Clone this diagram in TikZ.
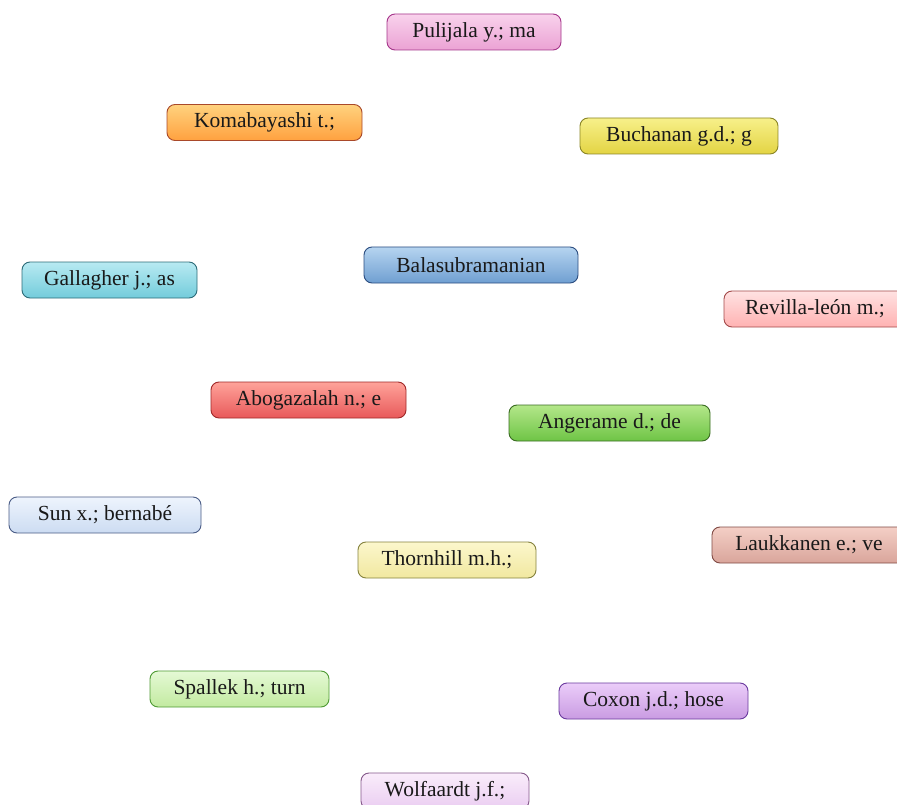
\documentclass[tikz,border=0pt]{standalone}
\usepackage{xcolor}
\usepackage{fontspec}
\setmainfont{Liberation Serif}

\definecolor{rosaA}{HTML}{F9D2EC}\definecolor{rosaB}{HTML}{EBA2D4}\definecolor{rosaC}{HTML}{A4358A}
\definecolor{naranjaA}{HTML}{FFD27E}\definecolor{naranjaB}{HTML}{FFA13F}\definecolor{naranjaC}{HTML}{A9492A}
\definecolor{amarilloA}{HTML}{F7F08A}\definecolor{amarilloB}{HTML}{E3D443}\definecolor{amarilloC}{HTML}{8A8526}
\definecolor{azulA}{HTML}{B6D4F0}\definecolor{azulB}{HTML}{6F9FD1}\definecolor{azulC}{HTML}{2B4D80}
\definecolor{cianA}{HTML}{B8EAF2}\definecolor{cianB}{HTML}{73CCDB}\definecolor{cianC}{HTML}{2C6B78}
\definecolor{salmonA}{HTML}{FFE2E2}\definecolor{salmonB}{HTML}{FFB2B2}\definecolor{salmonC}{HTML}{A34A4A}
\definecolor{rojoA}{HTML}{FFA39A}\definecolor{rojoB}{HTML}{E8595A}\definecolor{rojoC}{HTML}{A02828}
\definecolor{verdeA}{HTML}{B4E78A}\definecolor{verdeB}{HTML}{6EC445}\definecolor{verdeC}{HTML}{3A6B22}
\definecolor{celesteA}{HTML}{EEF4FD}\definecolor{celesteB}{HTML}{CCDCF2}\definecolor{celesteC}{HTML}{4A5C86}
\definecolor{cremaA}{HTML}{FCF7CC}\definecolor{cremaB}{HTML}{F1E8A0}\definecolor{cremaC}{HTML}{85823E}
\definecolor{marronA}{HTML}{F4CFC6}\definecolor{marronB}{HTML}{D9A59B}\definecolor{marronC}{HTML}{804A44}
\definecolor{limaA}{HTML}{E5F9D5}\definecolor{limaB}{HTML}{C2EAA0}\definecolor{limaC}{HTML}{4E9A33}
\definecolor{moradoA}{HTML}{EBCDF9}\definecolor{moradoB}{HTML}{C99BE2}\definecolor{moradoC}{HTML}{6A3A9E}
\definecolor{lilaA}{HTML}{FAEDFB}\definecolor{lilaB}{HTML}{EACDF1}\definecolor{lilaC}{HTML}{84588A}

\begin{document}
\begin{tikzpicture}[
    x=1pt, y=-1pt,
    every node/.style={font=\fontsize{21.5}{25}\selectfont},
    autor/.style n args={3}{draw=#3, top color=#1, bottom color=#2, line width=0.9pt,
        rounded corners=8pt, minimum height=36pt, inner xsep=4pt, text=black!90}
]
\clip (0,0) rectangle (897,805);
\useasboundingbox (0,0) rectangle (897,805);
% Autores
\node[autor={rosaA}{rosaB}{rosaC}, minimum width=174pt] (pulijala) at (474,32) {Pulijala y.; ma};
\node[autor={naranjaA}{naranjaB}{naranjaC}, minimum width=195pt] (komabayashi) at (264.5,122.5) {Komabayashi t.;};
\node[autor={amarilloA}{amarilloB}{amarilloC}, minimum width=198pt] (buchanan) at (679,136) {Buchanan g.d.; g};
\node[autor={azulA}{azulB}{azulC}, minimum width=214pt] (balasubramanian) at (471,265) {Balasubramanian};
\node[autor={cianA}{cianB}{cianC}, minimum width=175pt] (gallagher) at (109.5,280) {Gallagher j.; as};
\node[autor={salmonA}{salmonB}{salmonC}, minimum width=182pt] (revilla) at (815,309) {Revilla-león m.;};
\node[autor={rojoA}{rojoB}{rojoC}, minimum width=195pt] (abogazalah) at (308.5,400) {Abogazalah n.; e};
\node[autor={verdeA}{verdeB}{verdeC}, minimum width=201pt] (angerame) at (609.5,423) {Angerame d.; de};
\node[autor={celesteA}{celesteB}{celesteC}, minimum width=192pt] (sun) at (105,515) {Sun x.; bernabé};
\node[autor={cremaA}{cremaB}{cremaC}, minimum width=178pt] (thornhill) at (447,560) {Thornhill m.h.;};
\node[autor={marronA}{marronB}{marronC}, minimum width=194pt] (laukkanen) at (809,545) {Laukkanen e.; ve};
\node[autor={limaA}{limaB}{limaC}, minimum width=179pt] (spallek) at (239.5,689) {Spallek h.; turn};
\node[autor={moradoA}{moradoB}{moradoC}, minimum width=189pt] (coxon) at (653.5,701) {Coxon j.d.; hose};
\node[autor={lilaA}{lilaB}{lilaC}, minimum width=168pt] (wolfaardt) at (445,791) {Wolfaardt j.f.;};
\end{tikzpicture}
\end{document}
